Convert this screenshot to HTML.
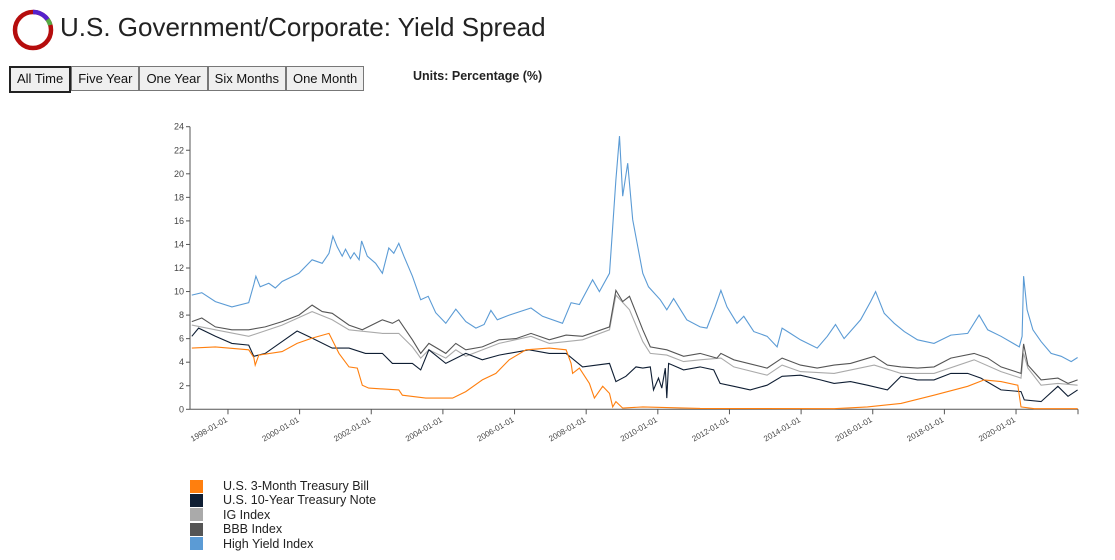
<!DOCTYPE html>
<html><head><meta charset="utf-8"><style>
body{margin:0;width:1115px;height:560px;background:#fff;font-family:"Liberation Sans",sans-serif;position:relative;overflow:hidden}
.title{position:absolute;left:60px;top:12px;font-size:26px;color:#222}
.btns{position:absolute;left:9px;top:66px;display:flex}
.btn{border:1px solid #777;background:#efefef;font-size:13px;padding:0 6px;height:23px;line-height:23px;color:#111}
.btn.active{border:2px solid #222;line-height:21px}
.units{position:absolute;left:413px;top:69px;font-size:12.5px;font-weight:bold;color:#222}
.legend{position:absolute;left:190px;top:479px;font-size:12.5px;color:#222}
.li{height:14.4px;line-height:14.4px;display:flex;align-items:center}
.sw{width:13px;height:13px;margin-right:20px}
</style></head><body>
<svg style="position:absolute;left:12px;top:9px" width="44" height="44" viewBox="0 0 44 44">
<circle cx="21" cy="21" r="18" fill="none" stroke="#b50d0d" stroke-width="4.5"/>
<path d="M21 3 A18 18 0 0 1 35.5 10.4" fill="none" stroke="#5522cc" stroke-width="4.5"/>
<path d="M35.5 10.4 A18 18 0 0 1 38.3 16" fill="none" stroke="#55aa44" stroke-width="4.5"/>
</svg>
<div class="title">U.S. Government/Corporate: Yield Spread</div>
<div class="btns">
<div class="btn active">All Time</div>
<div class="btn">Five Year</div>
<div class="btn">One Year</div>
<div class="btn">Six Months</div>
<div class="btn">One Month</div>
</div>
<div class="units">Units: Percentage (%)</div>
<svg id="chart" style="position:absolute;left:0;top:0" width="1115" height="470"></svg>
<div class="legend">
<div class="li"><div class="sw" style="background:#ff7f0e"></div>U.S. 3-Month Treasury Bill</div>
<div class="li"><div class="sw" style="background:#0f1e33"></div>U.S. 10-Year Treasury Note</div>
<div class="li"><div class="sw" style="background:#aaaaaa"></div>IG Index</div>
<div class="li"><div class="sw" style="background:#555555"></div>BBB Index</div>
<div class="li"><div class="sw" style="background:#5b9bd5"></div>High Yield Index</div>
</div>
<script>
const yTicks=[0,2,4,6,8,10,12,14,16,18,20,22,24];
const xTickYears=[1998,2000,2002,2004,2006,2008,2010,2012,2014,2016,2018,2020];
const hyT=[1996.99,1997.27,1997.65,1998.11,1998.58,1998.72,1998.78,1998.90,1999.14,1999.32,1999.51,1999.88,1999.98,2000.35,2000.63,2000.82,2000.93,2001.05,2001.19,2001.28,2001.42,2001.52,2001.66,2001.73,2001.89,2002.12,2002.31,2002.49,2002.63,2002.77,2002.91,2003.15,2003.38,2003.59,2003.80,2004.08,2004.36,2004.64,2004.92,2005.15,2005.34,2005.52,2005.85,2006.46,2006.78,2007.34,2007.58,2007.81,2008.18,2008.37,2008.65,2008.74,2008.83,2008.93,2009.02,2009.16,2009.30,2009.44,2009.58,2009.74,2010.07,2010.25,2010.44,2010.81,2011.18,2011.37,2011.60,2011.76,2011.93,2012.21,2012.40,2012.68,2013.05,2013.33,2013.47,2013.70,2013.98,2014.45,2014.73,2014.96,2015.20,2015.66,2015.94,2016.08,2016.32,2016.60,2016.88,2017.25,2017.71,2018.18,2018.65,2018.97,2019.21,2019.58,2020.09,2020.17,2020.21,2020.31,2020.47,2020.70,2020.98,2021.26,2021.54,2021.72];
const hyV=[9.7,9.9,9.15,8.7,9.05,10.6,11.3,10.4,10.7,10.3,10.85,11.4,11.55,12.7,12.4,13.25,14.7,13.8,13.0,13.6,12.8,13.3,12.7,14.3,13.0,12.4,11.55,13.7,13.25,14.1,13.0,11.3,9.3,9.6,8.2,7.3,8.5,7.45,6.9,7.2,8.4,7.6,8.0,8.6,7.9,7.3,9.05,8.9,11.0,10.0,11.55,15.5,19.5,23.2,18.1,20.9,16.1,13.8,11.55,10.4,9.3,8.45,9.4,7.6,7.0,6.9,8.7,10.1,8.7,7.3,7.9,6.6,6.2,5.3,6.9,6.45,5.9,5.2,6.2,7.2,6.0,7.6,9.15,10.0,8.15,7.3,6.6,5.9,5.6,6.3,6.45,8.0,6.75,6.2,5.3,6.2,11.3,8.45,6.75,5.75,4.75,4.5,4.05,4.4];
const bbbT=[1996.99,1997.27,1997.65,1998.11,1998.58,1999.04,1999.51,1999.98,2000.35,2000.63,2000.91,2001.38,2001.75,2002.31,2002.59,2002.77,2003.15,2003.38,2003.61,2004.08,2004.36,2004.64,2005.10,2005.57,2006.04,2006.46,2006.97,2007.44,2007.90,2008.65,2008.83,2009.02,2009.21,2009.58,2009.79,2010.25,2010.72,2011.18,2011.65,2011.76,2012.12,2013.05,2013.47,2013.98,2014.45,2014.92,2015.38,2016.04,2016.41,2016.79,2017.25,2017.71,2018.18,2018.83,2019.21,2019.58,2020.14,2020.21,2020.33,2020.70,2021.17,2021.45,2021.72];
const bbbV=[7.45,7.75,7.0,6.75,6.75,7.0,7.45,8.0,8.85,8.3,8.15,7.15,6.75,7.6,7.3,7.6,5.9,4.75,5.6,4.75,5.6,5.05,5.3,5.9,6.0,6.45,5.9,6.3,6.2,7.0,10.1,9.15,9.6,6.75,5.3,5.05,4.5,4.75,4.35,4.75,4.2,3.5,4.35,3.75,3.5,3.75,3.9,4.5,3.75,3.6,3.5,3.6,4.35,4.75,4.35,3.6,3.05,5.55,3.75,2.5,2.65,2.2,2.5];
const igT=[1996.99,1997.65,1998.58,1999.51,2000.35,2000.91,2001.38,2002.31,2002.77,2003.15,2003.38,2003.61,2004.08,2004.36,2004.64,2005.57,2006.46,2006.97,2007.90,2008.65,2008.83,2009.21,2009.58,2009.79,2010.25,2010.72,2011.18,2011.76,2012.12,2013.05,2013.47,2013.98,2014.92,2016.04,2016.79,2017.71,2018.83,2019.58,2020.14,2020.21,2020.33,2020.70,2021.17,2021.72];
const igV=[7.15,6.75,6.2,7.15,8.3,7.6,6.75,6.45,6.45,5.3,4.35,5.05,4.35,5.05,4.5,5.6,6.2,5.6,5.9,6.75,9.7,8.45,5.75,4.75,4.6,4.05,4.2,4.35,3.6,2.9,3.75,3.2,3.05,3.75,3.05,3.05,4.2,3.2,2.65,4.75,3.5,2.05,2.2,2.05];
const tnT=[1996.99,1997.18,1997.65,1998.11,1998.58,1998.72,1999.04,1999.51,1999.93,2000.35,2000.91,2001.38,2001.84,2002.31,2002.59,2003.15,2003.38,2003.61,2004.08,2004.64,2005.10,2005.57,2006.41,2006.97,2007.44,2007.90,2008.65,2008.83,2009.11,2009.39,2009.58,2009.79,2009.88,2010.02,2010.11,2010.21,2010.25,2010.30,2010.72,2011.18,2011.56,2011.74,2012.12,2012.58,2013.05,2013.47,2013.98,2014.54,2014.92,2015.38,2015.85,2016.41,2016.79,2017.25,2017.71,2018.18,2018.65,2019.02,2019.58,2020.14,2020.23,2020.70,2021.17,2021.45,2021.72];
const tnV=[6.2,6.9,6.2,5.6,5.45,4.5,4.75,5.75,6.65,6.05,5.2,5.2,4.75,4.75,3.9,3.9,3.35,5.05,3.9,4.75,4.2,4.6,5.05,4.75,4.75,3.6,3.9,2.35,2.8,3.6,3.5,3.6,1.65,2.65,1.8,3.5,0.95,3.9,3.35,3.6,3.35,2.2,1.95,1.65,2.05,2.8,2.9,2.5,2.2,2.35,2.05,1.65,2.8,2.5,2.5,3.05,3.05,2.65,1.65,1.5,0.8,0.65,1.95,1.1,1.65];
const tbT=[1996.99,1997.65,1998.58,1998.72,1998.76,1998.86,1999.51,1999.93,2000.35,2000.82,2001.10,2001.38,2001.61,2001.75,2001.93,2002.77,2002.87,2003.52,2004.27,2004.64,2005.10,2005.48,2005.85,2006.32,2006.97,2007.44,2007.58,2007.62,2007.81,2008.09,2008.23,2008.46,2008.65,2008.74,2008.83,2009.02,2009.58,2011.18,2014.92,2015.85,2016.79,2017.71,2018.65,2019.11,2019.58,2020.05,2020.14,2020.51,2021.72];
const tbV=[5.2,5.3,5.05,4.4,3.75,4.6,4.9,5.6,6.05,6.45,4.75,3.6,3.5,2.05,1.8,1.65,1.2,0.95,0.95,1.5,2.5,3.05,4.2,5.05,5.2,5.05,3.9,3.05,3.5,2.2,0.95,1.95,1.35,0.2,0.65,0.1,0.2,0.08,0.05,0.2,0.5,1.2,1.95,2.5,2.35,2.05,0.2,0.05,0.05];
const X0=190,X1=1078,Y0=409.3,Y1=126.7,T0=1996.94,T1=2021.73;
const xs=t=>X0+(t-T0)/(T1-T0)*(X1-X0);
const ys=v=>Y0-(v/24)*(Y0-Y1);
const svg=document.getElementById('chart');const NS='http://www.w3.org/2000/svg';
function mk(tag,attrs){const e=document.createElementNS(NS,tag);for(const k in attrs)e.setAttribute(k,attrs[k]);svg.appendChild(e);return e;}
const ya=mk('line',{x1:X0,y1:Y0,x2:X0,y2:Y1,stroke:'#555','stroke-width':1});


const xa=mk('line',{x1:X0,y1:Y0,x2:X1,y2:Y0,stroke:'#555','stroke-width':1});


yTicks.forEach(v=>{
 mk('line',{x1:X0-4,x2:X0,y1:ys(v),y2:ys(v),stroke:'#555'});
 const t=mk('text',{x:X0-6,y:ys(v)+3,'text-anchor':'end','font-size':9,fill:'#444'});
 t.textContent=v;
 
 
});
xTickYears.forEach(yr=>{
 const x=xs(yr);
 mk('line',{x1:x,x2:x,y1:Y0,y2:Y0+5,stroke:'#555'});
 const t=mk('text',{x:x,y:Y0+12,'text-anchor':'end','font-size':8,fill:'#444',transform:`rotate(-30 ${x} ${Y0+12})`});
 t.textContent=yr+'-01-01';
 
 
});
mk('line',{x1:X1,x2:X1,y1:Y0,y2:Y0+5,stroke:'#555'});
function series(T,V,color,name){
 const d=T.map((t,i)=>(i?'L':'M')+xs(t).toFixed(1)+' '+ys(V[i]).toFixed(1)).join(' ');
 const p=mk('path',{d:d,fill:'none',stroke:color,'stroke-width':1.1});
 
 
}
series(hyT,hyV,'#5b9bd5','high-yield-line');
series(igT,igV,'#aaaaaa','ig-line');
series(bbbT,bbbV,'#555555','bbb-line');
series(tnT,tnV,'#0f1e33','ten-year-line');
series(tbT,tbV,'#ff7f0e','three-month-line');
</script>
</body></html>
